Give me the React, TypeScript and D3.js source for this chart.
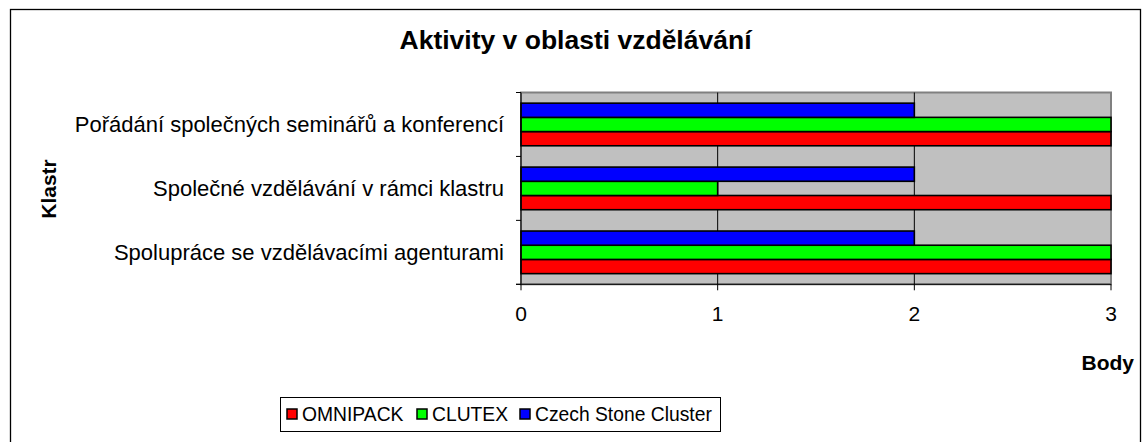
import React from "react";
import * as d3 from "d3";

const categories = [
  "Pořádání společných seminářů a konferencí",
  "Společné vzdělávání v rámci klastru",
  "Spolupráce se vzdělávacími agenturami",
];
const seriesNames = ["OMNIPACK", "CLUTEX", "Czech Stone Cluster"];
const seriesColors = ["#FF0000", "#00FF00", "#0000FF"];
const omnipack = [3, 3, 3];
const clutex = [3, 1, 3];
const czechStone = [2, 2, 2];
const xTicks = [0, 1, 2, 3];

const W = 1143;
const H = 442;
const plot = { left: 521, right: 1111, top: 92.5, bottom: 284.3 };
const font = "Arial, 'Liberation Sans', sans-serif";

export default function App() {
  const values = [omnipack, clutex, czechStone];
  const x = d3.scaleLinear().domain([0, 3]).range([plot.left, plot.right]);
  const y = d3.scaleBand().domain(categories).range([plot.top, plot.bottom]).padding(0);
  const inner = d3
    .scaleBand<string>()
    .domain([seriesNames[2], seriesNames[1], seriesNames[0]])
    .range([0, y.bandwidth()])
    .paddingInner(0)
    .paddingOuter(0.75);

  const legendItems = [
    { name: seriesNames[0], sq: 287, tx: 302 },
    { name: seriesNames[1], sq: 417, tx: 432 },
    { name: seriesNames[2], sq: 520, tx: 535 },
  ];

  return (
    <div style={{ position: "absolute", left: 0, top: 0 }}>
      <svg width={W} height={H} style={{ display: "block" }}>
        <rect x={0} y={0} width={W} height={H} fill="#fff" />
        <rect x={10.5} y={9.5} width={1130} height={440} fill="#fff" stroke="#000" strokeWidth={1.3} />
        <text x={575.5} y={49} textAnchor="middle" fontFamily={font} fontWeight="bold" fontSize={26.5}>
          Aktivity v oblasti vzdělávání
        </text>
        <rect
          x={plot.left}
          y={plot.top}
          width={plot.right - plot.left}
          height={plot.bottom - plot.top}
          fill="#C0C0C0"
          stroke="#808080"
          strokeWidth={2}
        />
        {xTicks.slice(1, -1).map((t) => (
          <line key={t} x1={x(t)} x2={x(t)} y1={plot.top} y2={plot.bottom} stroke="#000" strokeWidth={1} />
        ))}
        {categories.map((c, ci) =>
          seriesNames.map((s, si) => (
            <rect
              key={c + s}
              x={x(0)}
              y={(y(c) as number) + (inner(s) as number)}
              width={x(values[si][ci]) - x(0)}
              height={inner.bandwidth()}
              fill={seriesColors[si]}
              stroke="#000"
              strokeWidth={1.6}
            />
          ))
        )}
        <line x1={plot.left} x2={plot.left} y1={plot.top} y2={plot.bottom} stroke="#000" strokeWidth={1} />
        <line x1={plot.left - 5} x2={plot.right} y1={plot.bottom} y2={plot.bottom} stroke="#000" strokeWidth={1} />
        {[plot.top, ...categories.map((c) => (y(c) as number) + y.bandwidth())].map((yy, i) => (
          <line key={i} x1={plot.left - 5} x2={plot.left} y1={yy} y2={yy} stroke="#000" strokeWidth={1} />
        ))}
        {xTicks.map((t) => (
          <g key={t}>
            <line x1={x(t)} x2={x(t)} y1={plot.bottom} y2={plot.bottom + 6} stroke="#000" strokeWidth={1} />
            <text x={x(t)} y={320.5} textAnchor="middle" fontFamily={font} fontSize={21}>
              {t}
            </text>
          </g>
        ))}
        {categories.map((c) => (
          <text
            key={c}
            x={504}
            y={(y(c) as number) + y.bandwidth() / 2 + 7.5}
            textAnchor="end"
            fontFamily={font}
            fontSize={22}
          >
            {c}
          </text>
        ))}
        <text
          transform="translate(55.5,189) rotate(-90)"
          textAnchor="middle"
          fontFamily={font}
          fontWeight="bold"
          fontSize={21}
        >
          Klastr
        </text>
        <text x={1134} y={369.5} textAnchor="end" fontFamily={font} fontWeight="bold" fontSize={21}>
          Body
        </text>
        <rect x={280.5} y={397.5} width={440} height={34} fill="#fff" stroke="#000" strokeWidth={1} />
        {legendItems.map((it, i) => (
          <g key={it.name}>
            <rect x={it.sq} y={409} width={10} height={10} fill={seriesColors[i]} stroke="#000" strokeWidth={1.5} />
            <text x={it.tx} y={421} fontFamily={font} fontSize={19.3}>
              {it.name}
            </text>
          </g>
        ))}
      </svg>
    </div>
  );
}
